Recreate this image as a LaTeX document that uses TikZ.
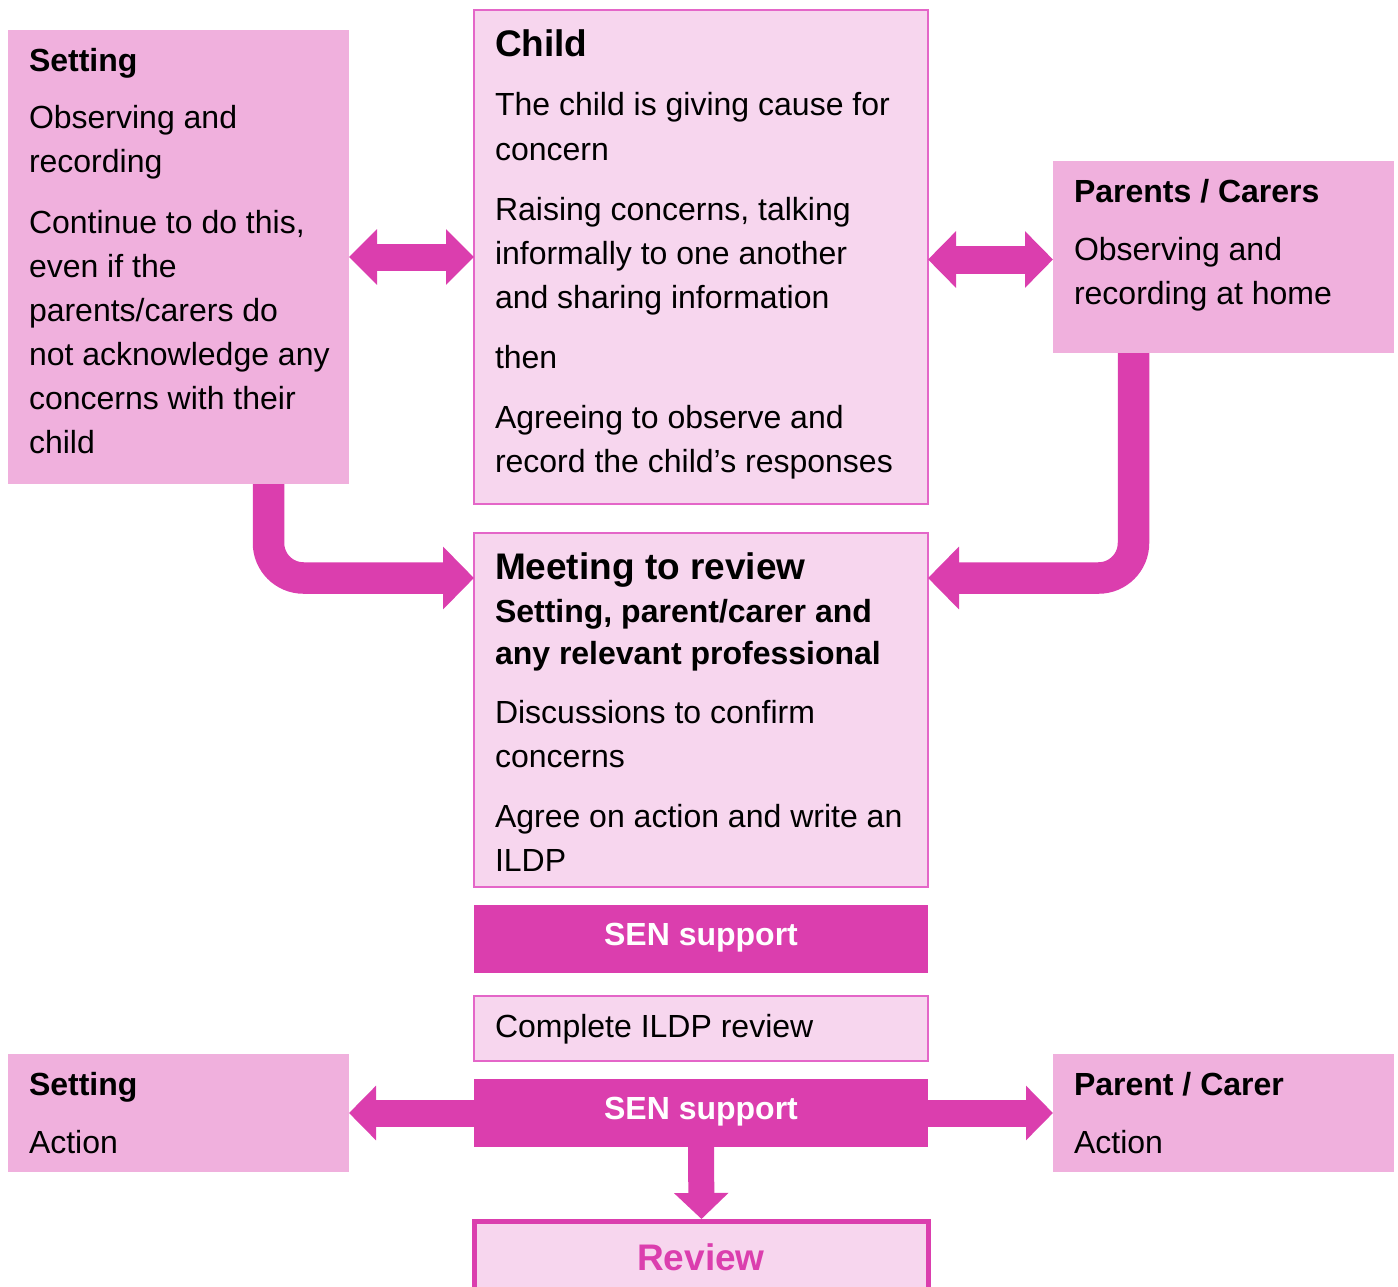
\documentclass[tikz,border=0pt]{standalone}
\usepackage{fontspec}
\setmainfont{Liberation Sans}
\usetikzlibrary{arrows.meta,calc}
\definecolor{dark}{HTML}{DB3EAE}
\definecolor{light}{HTML}{F0B0DD}
\definecolor{pale}{HTML}{F7D6EE}
\definecolor{edge}{HTML}{E466C8}
\begin{document}
\begin{tikzpicture}[x=0.5pt,y=-0.5pt,
  lbox/.style={rectangle, fill=light, draw=none, inner sep=0pt, outer sep=0pt, anchor=north west},
  pbox/.style={rectangle, fill=pale, draw=edge, line width=0.75pt, inner sep=0pt, outer sep=0pt, anchor=north west},
  dbox/.style={rectangle, fill=dark, draw=none, inner sep=0pt, outer sep=0pt, anchor=north west},
  txt/.style={anchor=base west, inner sep=0pt, outer sep=0pt, font=\fontsize{16pt}{22pt}\selectfont},
  btxt/.style={txt, font=\fontsize{16pt}{22pt}\selectfont\bfseries},
  htxt/.style={txt, font=\fontsize{18.5pt}{22pt}\selectfont\bfseries},
  wtxt/.style={anchor=base, inner sep=0pt, outer sep=0pt, text=white, font=\fontsize{16pt}{22pt}\selectfont\bfseries},
  conn/.style={draw=dark},
]
\useasboundingbox (0,0) rectangle (1398,1286);
\clip (0,0) rectangle (1398,1286);

% boxes
\node[lbox, minimum width=170.5pt, minimum height=227pt] (setL) at (8,30) {};
\node[pbox, minimum width=227pt, minimum height=247pt] (child) at (474,10) {};
\node[lbox, minimum width=170.5pt, minimum height=96pt] (par) at (1053,161) {};
\node[pbox, minimum width=227pt, minimum height=177pt] (meet) at (474,533) {};
\node[dbox, minimum width=227pt, minimum height=34pt] (sen1) at (474,905) {};
\node[pbox, minimum width=227pt, minimum height=32.5pt] (ildp) at (474,996) {};
\node[dbox, minimum width=227pt, minimum height=34pt] (sen2) at (474,1079) {};
\node[lbox, minimum width=170.5pt, minimum height=59pt] (setA) at (8,1054) {};
\node[lbox, minimum width=170.5pt, minimum height=59pt] (parA) at (1053,1054) {};
\node[rectangle, fill=pale, draw=dark, line width=2.5pt, inner sep=0pt, outer sep=0pt, anchor=north west, minimum width=227pt, minimum height=40pt] (review) at (474.5,1221.5) {};

% connectors
\draw[conn, line width=13.5pt, {Triangle[length=14pt,width=27pt]}-{Triangle[length=14pt,width=27pt]}] (setL.east) -- (child.west);
\draw[conn, line width=14pt, {Triangle[length=14pt,width=27.5pt]}-{Triangle[length=14pt,width=27.5pt]}] ($(child.east)+(0,2.5)$) -- ($(par.west)+(0,2.5)$);

\coordinate (s1) at ($(setL.south west)+(260.5,0)$);
\coordinate (e1) at ($(meet.north west)+(0,45)$);
\draw[conn, line width=15.75pt, rounded corners=17.5pt, -{Triangle[length=15.5pt,width=30.5pt]}] (s1) |- (e1);

\coordinate (s2) at ($(par.south west)+(80.5,0)$);
\coordinate (e2) at ($(meet.north east)+(0,45)$);
\draw[conn, line width=15.75pt, rounded corners=17.5pt, -{Triangle[length=15.5pt,width=30.5pt]}] (s2) |- (e2);

\draw[conn, line width=13.5pt, -{Triangle[length=13.5pt,width=26.5pt]}] (sen2.west) -- (setA.east);
\draw[conn, line width=13.5pt, -{Triangle[length=13.5pt,width=26.5pt]}] (sen2.east) -- (parA.west);
\draw[conn, line width=13pt, -{Triangle[length=13pt,width=26.5pt]}] (sen2.south) -- ($(review.north)-(0,2.5)$);

% Setting text
\node[btxt] (a1) at (29,71) {Setting};
\node[txt] (a2) at (29,128) {Observing and};
\node[txt] (a3) at (29,172) {recording};
\node[txt] (a4) at (29,233) {Continue to do this,};
\node[txt] (a5) at (29,277) {even if the};
\node[txt] (a6) at (29,321) {parents/carers do};
\node[txt] (a7) at (29,365) {not acknowledge any};
\node[txt] (a8) at (29,409) {concerns with their};
\node[txt] (a9) at (29,453) {child};

% Child text
\node[htxt] (b1) at (495,56) {Child};
\node[txt] (b2) at (495,115) {The child is giving cause for};
\node[txt] (b3) at (495,160) {concern};
\node[txt] (b4) at (495,220) {Raising concerns, talking};
\node[txt] (b5) at (495,264) {informally to one another};
\node[txt] (b6) at (495,308) {and sharing information};
\node[txt] (b7) at (495,368) {then};
\node[txt] (b8) at (495,428) {Agreeing to observe and};
\node[txt] (b9) at (495,472) {record the child’s responses};

% Parents text
\node[btxt] (c1) at (1074,202) {Parents / Carers};
\node[txt] (c2) at (1074,260) {Observing and};
\node[txt] (c3) at (1074,304) {recording at home};

% Meeting text
\node[htxt] (d1) at (495,579) {Meeting to review};
\node[btxt] (d2) at (495,622) {Setting, parent/carer and};
\node[btxt] (d3) at (495,664) {any relevant professional};
\node[txt] (d4) at (495,723) {Discussions to confirm};
\node[txt] (d5) at (495,767) {concerns};
\node[txt] (d6) at (495,827) {Agree on action and write an};
\node[txt] (d7) at (495,871) {ILDP};

% lower part
\node[wtxt] (e1t) at (701,945) {SEN support};
\node[txt] (f1) at (495,1037) {Complete ILDP review};
\node[wtxt] (g1) at (701,1119) {SEN support};
\node[btxt] (h1) at (29,1095) {Setting};
\node[txt] (h2) at (29,1153) {Action};
\node[btxt] (i1) at (1074,1095) {Parent / Carer};
\node[txt] (i2) at (1074,1153) {Action};
\node[anchor=base, inner sep=0pt, text=dark, font=\fontsize{18.5pt}{22pt}\selectfont\bfseries] (rv) at (701,1270) {Review};
\end{tikzpicture}
\end{document}
